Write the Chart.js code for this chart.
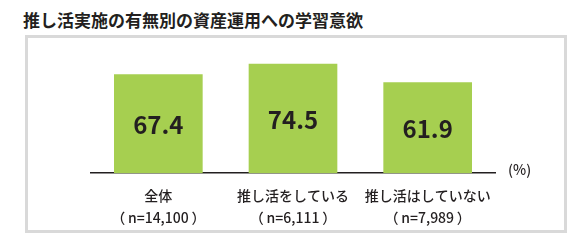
<!DOCTYPE html>
<html lang="ja">
<head>
<meta charset="utf-8">
<script src="https://cdn.jsdelivr.net/npm/chart.js@4"></script>
<style>
  body { margin: 0; background: #fff; width: 581px; height: 248px; overflow: hidden; position: relative; }
  #title { position: absolute; left: 23px; top: 7px; font: bold 17px "Noto Sans CJK JP", sans-serif; color: #231f20; }
  #frame { position: absolute; left: 25px; top: 35px; width: 536px; height: 192px; border: 3px solid #d9d9d9; }
  #wrap { position: absolute; left: 0; top: 0; width: 581px; height: 248px; }
</style>
</head>
<body>
<div id="title">推し活実施の有無別の資産運用への学習意欲</div>
<div id="frame"></div>
<div id="wrap"><canvas id="chart"></canvas></div>
<script>
const categories = [["全体", "（\u2009n=14,100\u2009）"], ["推し活をしている", "（\u2009n=6,111\u2009）"], ["推し活はしていない", "（\u2009n=7,989\u2009）"]];
const values = [67.4, 74.5, 61.9];
const unitLabel = "(%)";

const fontFamily = '"Noto Sans CJK JP", sans-serif';

// value labels inside bars and unit label at the end of the axis
const labelPlugin = {
  id: "labels",
  afterDatasetsDraw(chart) {
    const ctx = chart.ctx;
    const meta = chart.getDatasetMeta(0);
    ctx.save();
    ctx.fillStyle = "#231f20";
    ctx.font = "bold 24px " + fontFamily;
    ctx.textAlign = "center";
    ctx.textBaseline = "middle";
    meta.data.forEach((bar, i) => {
      const y = (bar.y + bar.base) / 2;
      ctx.fillText(values[i].toFixed(1), bar.x, y + 1);
    });
    ctx.font = "500 14px " + fontFamily;
    ctx.textAlign = "left";
    ctx.fillText(unitLabel, chart.chartArea.right + 13, chart.chartArea.bottom - 4);
    ctx.restore();
  }
};

new Chart(document.getElementById("chart"), {
  type: "bar",
  data: {
    labels: categories,
    datasets: [{
      data: values,
      backgroundColor: "#a6cf50",
      borderWidth: 0,
      barThickness: 88
    }]
  },
  options: {
    responsive: true,
    maintainAspectRatio: false,
    animation: false,
    layout: { padding: { left: 91, right: 86, top: 56, bottom: 16 } },
    plugins: { legend: { display: false }, tooltip: { enabled: false } },
    scales: {
      x: {
        grid: { display: false },
        border: { display: true, color: "#231f20", width: 1.5 },
        ticks: {
          color: "#231f20",
          padding: 3,
          maxRotation: 0,
          font: { family: fontFamily, size: 14, weight: "500", lineHeight: 1.6 }
        }
      },
      y: {
        display: false,
        min: 0,
        max: 80
      }
    }
  },
  plugins: [labelPlugin]
});
</script>
</body>
</html>
